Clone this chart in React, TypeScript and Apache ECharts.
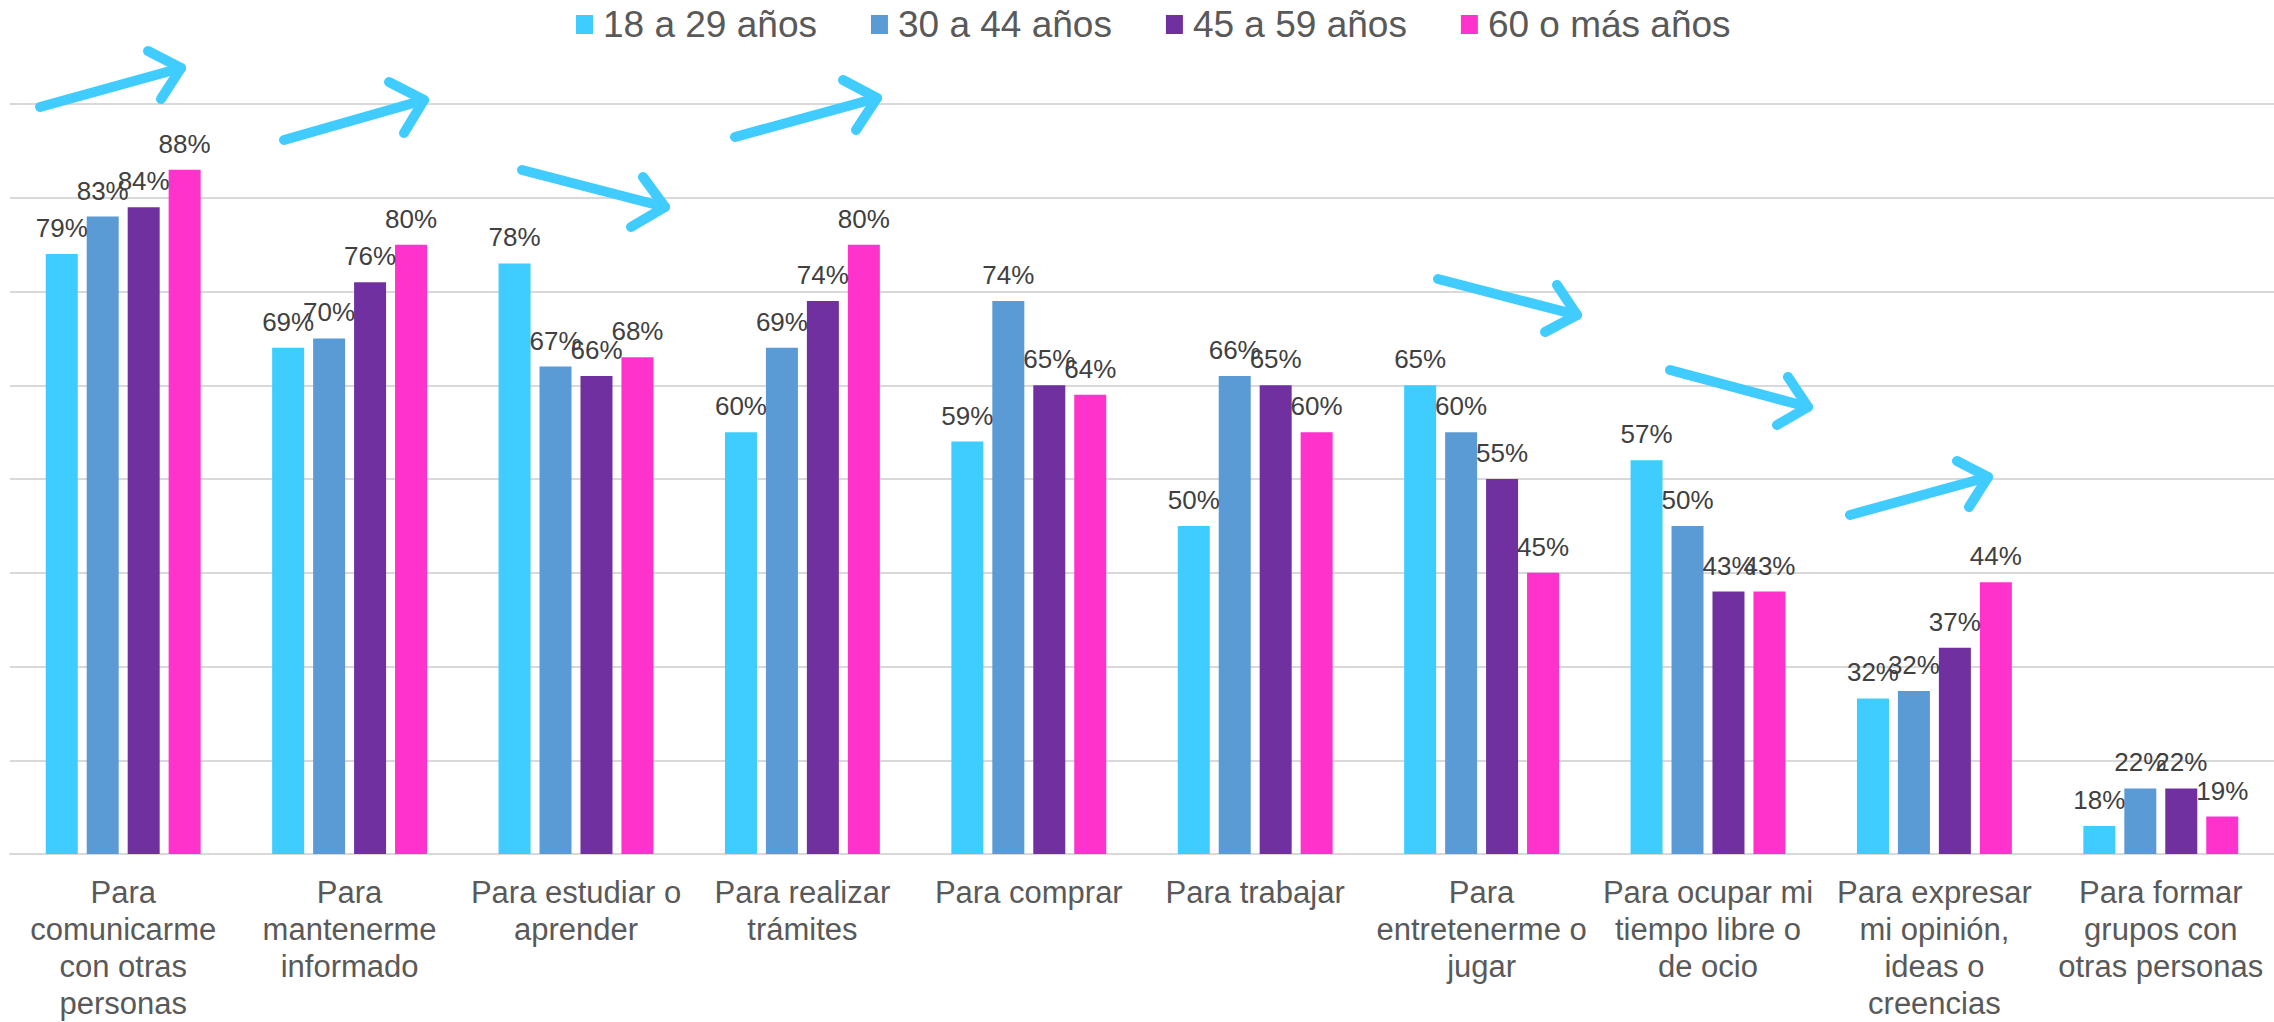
import React, { useEffect, useRef } from "react";
import * as echarts from "echarts";

const categories = [
  "Para\ncomunicarme\ncon otras\npersonas",
  "Para\nmantenerme\ninformado",
  "Para estudiar o\naprender",
  "Para realizar\ntrámites",
  "Para comprar",
  "Para trabajar",
  "Para\nentretenerme o\njugar",
  "Para ocupar mi\ntiempo libre o\nde ocio",
  "Para expresar\nmi opinión,\nideas o\ncreencias",
  "Para formar\ngrupos con\notras personas",
];

const seriesNames = ["18 a 29 años", "30 a 44 años", "45 a 59 años", "60 o más años"];
const v18to29 = [79, 69, 78, 60, 59, 50, 65, 57, 31.6, 18];
const v30to44 = [83, 70, 67, 69, 74, 66, 60, 50, 32.4, 22];
const v45to59 = [84, 76, 66, 74, 65, 65, 55, 43, 37, 22];
const v60plus = [88, 80, 68, 80, 64, 60, 45, 43, 44, 19];
const seriesColors = ["#3FCCFF", "#5B9BD5", "#7030A0", "#FF33CC"];

// hand-drawn trend arrows (annotation layer, pixel positions)
const arrowShafts = [
  [[40, 107], [181, 68]],
  [[284, 140], [424, 100]],
  [[522, 170], [665, 207]],
  [[735, 137], [877, 98]],
  [[1438, 279], [1577, 315]],
  [[1670, 370], [1808, 407]],
  [[1850, 515], [1988, 477]],
];
const arrowHeads = [
  [[148, 51], [181, 68], [161, 99]],
  [[389, 82], [424, 100], [404, 133]],
  [[643, 177], [665, 207], [631, 227]],
  [[843, 80], [877, 98], [856, 130]],
  [[1557, 285], [1577, 315], [1545, 332]],
  [[1788, 377], [1808, 407], [1777, 425]],
  [[1957, 461], [1988, 477], [1969, 507]],
];

const FONT = "'Liberation Sans', Arial, sans-serif";

export default function App() {
  const ref = useRef<HTMLDivElement>(null);
  useEffect(() => {
    if (!ref.current) return;
    const chart = echarts.init(ref.current, null, { renderer: "svg" });
    const allValues = [v18to29, v30to44, v45to59, v60plus];
    const arrowStyle = {
      stroke: "#40CCFF",
      lineWidth: 10,
      lineCap: "round",
      lineJoin: "round",
      fill: null,
    };
    const graphics: any[] = [];
    arrowShafts.forEach((s) => {
      graphics.push({ type: "polyline", shape: { points: s }, style: arrowStyle, z: 100 });
    });
    arrowHeads.forEach((h) => {
      graphics.push({ type: "polyline", shape: { points: h }, style: arrowStyle, z: 100 });
    });
    chart.setOption({
      animation: false,
      backgroundColor: "#ffffff",
      textStyle: { fontFamily: FONT },
      legend: {
        data: seriesNames,
        left: 571,
        top: 1,
        itemWidth: 17,
        itemHeight: 19,
        itemGap: 54,
        icon: "rect",
        textStyle: { fontSize: 37, color: "#595959", fontFamily: FONT, padding: [0, 0, 0, 5] },
      },
      grid: { left: 10, right: 0, top: 104, bottom: 166, containLabel: false },
      xAxis: {
        type: "category",
        data: categories,
        axisTick: { show: false },
        axisLine: { show: true, lineStyle: { color: "#D9D9D9", width: 2 } },
        axisLabel: {
          interval: 0,
          fontSize: 31,
          lineHeight: 37,
          color: "#595959",
          fontFamily: FONT,
          margin: 20,
        },
      },
      yAxis: [
        {
          type: "value",
          min: 15,
          max: 95,
          show: false,
          splitLine: { show: false },
        },
        {
          type: "value",
          min: 0,
          max: 80,
          interval: 10,
          axisLabel: { show: false },
          axisLine: { show: false },
          axisTick: { show: false },
          splitLine: { show: true, lineStyle: { color: "#D9D9D9", width: 2 } },
        },
      ],
      series: seriesNames.map((name, i) => ({
        name,
        type: "bar",
        yAxisIndex: 0,
        data: allValues[i],
        barWidth: 32,
        barGap: "28%",
        itemStyle: { color: seriesColors[i] },
        label: {
          show: true,
          position: "top",
          distance: 13,
          fontSize: 26,
          color: "#404040",
          fontFamily: FONT,
          formatter: (p: any) => Math.round(p.value) + "%",
        },
      })),
      color: seriesColors,
      graphic: graphics,
    });
    return () => chart.dispose();
  }, []);
  return (
    <div
      ref={ref}
      style={{ position: "fixed", left: 0, top: 0, width: 2274, height: 1022, background: "#fff" }}
    />
  );
}
